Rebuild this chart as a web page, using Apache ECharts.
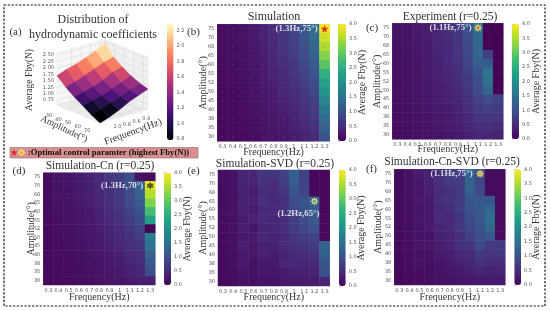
<!DOCTYPE html>
<html>
<head>
<meta charset="utf-8">
<style>html,body{margin:0;padding:0;background:#fff}#c{width:550px;height:311px;filter:blur(0.35px)}</style>
<script src="https://cdn.jsdelivr.net/npm/echarts@6/dist/echarts.min.js"></script>
</head>
<body>
<div id="c"></div>
<script>
// ---------- categories and tick labels ----------
var freqLabels = ['0.3','0.4','0.5','0.6','0.7','0.8','0.9','1','1.1','1.2','1.3'];
var ampLabels = ['30','35','38','40','45','50','52','55','60','65','68','70','75'];
var barTicks = [0, 4];
var surfFreqs = [0.3,0.5,0.7,0.9,1.1,1.3];
var surfAmps = [30,39,48,57,66,75];
var surfFreqTicks = [0.4,0.6,0.8,1.0];
var surfAmpTicks = [30,40,50,60,70];
var surfZTicks = [0.75,1.0,1.25,1.5,1.75,2.0,2.25,2.5];

// ---------- values, rows run from amplitude 75 (top) down to 30 ----------
var simulation = [
[.12,.16,.2,.28,.38,.5,.65,.85,1.1,1.45,3.95],
[.12,.16,.2,.27,.36,.47,.62,.8,1.05,1.4,3.7],
[.11,.15,.19,.26,.34,.45,.6,.75,1,1.3,3.5],
[.11,.15,.19,.25,.33,.43,.56,.72,.95,1.25,3.25],
[.1,.14,.18,.24,.31,.4,.52,.66,.88,1.15,2.95],
[.1,.13,.17,.23,.29,.37,.48,.6,.8,1.05,2.55],
[.1,.13,.16,.22,.28,.35,.45,.56,.72,.95,2.3],
[.09,.12,.16,.21,.26,.33,.42,.52,.66,.88,2.1],
[.09,.12,.15,.2,.25,.31,.38,.47,.6,.78,1.85],
[.09,.11,.14,.18,.23,.28,.34,.42,.54,.7,1.6],
[.08,.11,.14,.17,.21,.26,.31,.38,.48,.62,1.4],
[.08,.1,.13,.16,.2,.24,.29,.35,.43,.55,1.25],
[.08,.1,.12,.15,.18,.22,.26,.31,.38,.48,1.05]];
var experiment = [
[.2,.22,.28,.33,.42,.52,.68,1.0,1.4,.04,.04],
[.19,.21,.27,.32,.41,.5,.65,.95,1.35,.04,.04],
[.19,.21,.26,.31,.4,.48,.62,.92,1.32,.04,.04],
[.18,.2,.25,.3,.38,.46,.6,.88,1.3,.75,.04],
[.18,.2,.25,.29,.36,.44,.57,.82,1.2,1.15,.04],
[.17,.19,.24,.28,.34,.42,.53,.75,1.05,1.5,.04],
[.16,.18,.23,.27,.33,.4,.5,.68,.98,1.5,.04],
[.16,.18,.22,.26,.31,.38,.46,.62,.9,1.3,.04],
[.15,.17,.21,.25,.29,.35,.42,.56,.8,.95,.8],
[.14,.16,.2,.23,.27,.32,.38,.5,.68,.75,.7],
[.14,.16,.19,.22,.26,.3,.36,.46,.6,.65,.6],
[.13,.15,.18,.21,.24,.28,.33,.42,.52,.55,.5],
[.12,.14,.17,.19,.22,.25,.29,.35,.42,.42,.38]];
var simulationCn = [
[.12,.2,.22,.3,.38,.48,.6,.75,.95,.2,.15],
[.12,.2,.22,.29,.36,.46,.58,.72,.95,1.25,3.9],
[.12,.19,.21,.27,.34,.43,.55,.7,.92,1.2,3.55],
[.11,.18,.2,.26,.33,.41,.52,.68,.9,1.15,3.2],
[.11,.17,.19,.24,.3,.38,.48,.62,.82,1.05,2.8],
[.1,.16,.18,.23,.28,.35,.44,.56,.72,.92,2.25],
[.1,.15,.17,.22,.27,.33,.4,.5,.65,.82,.04],
[.1,.14,.16,.2,.25,.3,.37,.46,.58,.72,1.7],
[.1,.13,.15,.19,.23,.28,.33,.41,.52,.62,1.5],
[.09,.12,.14,.17,.21,.25,.3,.36,.45,.54,1.25],
[.09,.12,.13,.16,.19,.23,.27,.32,.4,.47,1.1],
[.09,.11,.13,.15,.18,.21,.25,.29,.35,.42,.95],
[.08,.1,.12,.14,.16,.18,.21,.24,.28,.33,.35]];
var simulationSvd = [
[.15,.22,.42,.42,.62,.6,.8,1.2,.8,.08,.08],
[.15,.22,.4,.4,.58,.5,.72,1.15,.8,.08,.08],
[.14,.2,.38,.32,.5,.48,.62,1.05,.85,.08,.08],
[.14,.2,.36,.38,.56,.46,.55,.95,1.05,1.1,.08],
[.14,.2,.34,.3,.44,.45,.58,.85,1.0,1.15,.08],
[.13,.18,.3,.35,.48,.42,.48,.72,.9,1.1,.08],
[.13,.18,.32,.26,.4,.42,.52,.7,.85,1.0,.08],
[.12,.17,.28,.3,.42,.38,.44,.6,.72,.8,.08],
[.12,.18,.34,.24,.34,.36,.48,.56,.6,.7,1.25],
[.12,.17,.26,.25,.38,.3,.38,.48,.5,.55,1.2],
[.11,.16,.28,.2,.3,.3,.42,.44,.42,.45,1.05],
[.11,.15,.22,.2,.26,.26,.3,.36,.36,.38,1.0],
[.1,.14,.18,.17,.22,.22,.26,.3,.3,.3,.4]];
var simulationCnSvd = [
[.12,.2,.28,.38,.55,.75,.8,1.3,.9,.12,.12],
[.12,.2,.26,.38,.55,.7,.72,1.25,.85,.12,.12],
[.11,.18,.24,.34,.5,.55,.7,1.2,.9,.12,.12],
[.11,.18,.28,.3,.55,.6,.7,1.1,1.1,1.05,.12],
[.11,.17,.24,.3,.46,.52,.75,1.0,1.15,1.3,.12],
[.1,.17,.26,.26,.48,.45,.62,.9,1.1,1.45,.12],
[.1,.16,.22,.28,.4,.48,.65,.85,1.05,1.35,.12],
[.1,.15,.22,.22,.38,.4,.55,.75,.95,1.1,.12],
[.1,.15,.24,.24,.32,.38,.58,.62,.9,.7,.7],
[.09,.13,.18,.18,.3,.32,.44,.5,.7,.6,.62],
[.09,.13,.2,.16,.25,.3,.36,.42,.55,.5,.5],
[.09,.12,.15,.15,.22,.25,.3,.35,.4,.38,.4],
[.08,.11,.13,.13,.18,.2,.24,.26,.3,.28,.3]];
// surface: rows by surfAmps, columns by surfFreqs
var surfaceFby = [
[2.45,2.25,2.1,1.95,1.85,1.7],
[2.05,1.95,1.8,1.65,1.5,1.4],
[1.8,1.7,1.5,1.35,1.25,1.15],
[1.6,1.45,1.3,1.15,1.05,.95],
[1.45,1.3,1.15,1.0,.85,.72],
[1.35,1.2,1.05,.85,.68,.55]];

// ---------- layout and style ----------
var SERIF = '"Liberation Serif"';
var SANS = '"DejaVu Sans"';
var viridis = ['#440154','#482878','#3e4989','#31688e','#26828e','#1f9e89','#35b779','#6ece58','#b5de2b','#fde725'];
var magma = ['#000004','#1c1044','#4f127b','#812581','#b5367a','#e55964','#fb8761','#fec287','#fcfdbf'];
var STAR = 'path://M12 0L15 8.5L24 8.5L17 14L19.5 23L12 17.5L4.5 23L7 14L0 8.5L9 8.5Z';
var SUN = 'path://M12 0L14.5 6L20.5 3.5L18 9.5L24 12L18 14.5L20.5 20.5L14.5 18L12 24L9.5 18L3.5 20.5L6 14.5L0 12L6 9.5L3.5 3.5L9.5 6Z';
var HEX = 'path://M12 0L15 6.5L22.4 6L18 12L22.4 18L15 17.5L12 24L9 17.5L1.6 18L6 12L1.6 6L9 6.5Z';

var panels = [
 {vals:simulation, g:[217.3,24.3,112.4,117], b:[338,24,8,117], bn:11, xg:5.7, yg:9.3,
  best:[10,12], sym:STAR, size:8, col:'#d0101c', dot:null, lab:'(1.3Hz,75°)', lp:'left', lo:[-1,0], dots:.42},
 {vals:experiment, g:[392.3,23.3,111,116], b:[511.7,24,7.3,115], bn:12, xg:4.7, yg:10,
  best:[8,12], sym:SUN, size:9, col:'#fff07a', dot:'#e2602a', lab:'(1.1Hz,75°)', lp:'left', lo:[0,0], dots:.18},
 {vals:simulationCn, g:[43.3,172.7,112,112.3], b:[164,172.7,7,112.3], bn:11, xg:7.7, yg:7,
  best:[10,11], sym:HEX, size:8, col:'#25401e', dot:null, lab:'(1.3Hz,70°)', lp:'left', lo:[-1,0], dots:.18},
 {vals:simulationSvd, g:[218,170,111.7,116], b:[339,170,6.7,116], bn:11, xg:6.7, yg:10,
  best:[9,9], sym:SUN, size:9, col:'#e9f7a8', dot:'#5f9a3a', lab:'(1.2Hz,65°)', lp:'bottom', lo:[-16,1], dots:0},
 {vals:simulationCnSvd, g:[394.3,169.3,111,115.7], b:[514.3,169.3,6.7,115.7], bn:10, xg:7, yg:11,
  best:[8,12], sym:SUN, size:9, col:'#fff07a', dot:'#d9902a', lab:'(1.1Hz,75°)', lp:'left', lo:[-1,0], dots:0}
];

var texts = [
 ['Distribution of',93,20,12,0],['hydrodynamic coefficients',93,35,12,0],
 ['(a)',15.5,32,11,0],['(b)',193.5,32,11,0],['(c)',372,28,11,0],['(d)',19,171,11,0],['(e)',193.5,171,11,0],['(f)',371.5,169,11,0],
 ['Simulation',274,17,12,0],['Experiment (r=0.25)',450,16.5,11.5,0],
 ['Simulation-Cn (r=0.25)',100,165.5,11.5,0],['Simulation-SVD (r=0.25)',275,164,11.5,0],['Simulation-Cn-SVD (r=0.25)',452,162,11.5,0],
 ['Average Fby(N)',29,80,9.5,Math.PI/2],['Amplitude(°)',64,129,9.5,-0.44],['Frequency(Hz)',133,132,10,0.35]
];

var grid=[], xAxis=[], yAxis=[], series=[], visualMap=[];
function cellRows(vals){ // flip to bottom-first category order
  var out=[];
  vals.forEach(function(row,r){ row.forEach(function(v,c){ out.push([c, vals.length-1-r, v]); }); });
  return out;
}
panels.forEach(function(p,i){
  grid.push({left:p.g[0],top:p.g[1],width:p.g[2],height:p.g[3],show:false});
  var label={fontSize:5,fontFamily:SANS,color:'#555',interval:0};
  xAxis.push({gridIndex:i,type:'category',data:freqLabels,axisLine:{show:false},
    axisTick:{length:1.5,alignWithLabel:true,interval:0,lineStyle:{color:'#777',width:.5}},
    axisLabel:Object.assign({margin:3},label),splitLine:{show:false},
    name:'Frequency(Hz)',nameLocation:'middle',nameGap:p.xg,nameMoveOverlap:false,nameTextStyle:{fontFamily:SERIF,fontSize:10,color:'#333',verticalAlign:'top',lineHeight:10}});
  yAxis.push({gridIndex:i,type:'category',data:ampLabels,axisLine:{show:false},
    axisTick:{length:1.5,alignWithLabel:true,interval:0,lineStyle:{color:'#777',width:.5}},
    axisLabel:Object.assign({margin:3},label),splitLine:{show:false},
    name:'Amplitude(°)',nameLocation:'middle',nameGap:p.yg,nameMoveOverlap:false,nameRotate:90,nameTextStyle:{fontFamily:SERIF,fontSize:10,color:'#333'}});
  var idx=series.length;
  series.push({type:'heatmap',xAxisIndex:i,yAxisIndex:i,data:cellRows(p.vals),silent:true,animation:false,itemStyle:{borderWidth:0}});
  visualMap.push({type:'continuous',seriesIndex:idx,dimension:2,min:0,max:4,left:p.b[0],top:p.b[1],itemWidth:p.b[2],itemHeight:p.b[3],
    padding:0,text:null,calculable:false,realtime:false,inRange:{color:viridis},textStyle:{fontSize:1,color:'transparent'},hoverLink:false});
  if(p.dots>0){
    series.push({type:'scatter',xAxisIndex:i,yAxisIndex:i,silent:true,animation:false,symbol:'circle',symbolSize:1.6,
      itemStyle:{color:'#e0407a',opacity:p.dots},data:cellRows(p.vals).map(function(d){return [d[0],d[1]];})});
  }
  series.push({type:'scatter',xAxisIndex:i,yAxisIndex:i,silent:true,animation:false,z:5,symbol:p.sym,symbolSize:p.size,
    itemStyle:{color:p.col},data:[p.best],
    label:{show:true,formatter:p.lab,position:p.lp,distance:2,offset:p.lo,color:'#fff',fontFamily:SERIF,fontWeight:'bold',fontSize:8.8}});
  if(p.dot){
    series.push({type:'scatter',xAxisIndex:i,yAxisIndex:i,silent:true,animation:false,z:6,symbol:'circle',symbolSize:3.2,itemStyle:{color:p.dot},data:[p.best]});
  }
});
panels.forEach(function(p,i){ // colour bar tick axes
  var g=grid.length;
  grid.push({left:p.b[0],top:p.b[1],width:p.b[2],height:p.b[3],show:false});
  xAxis.push({gridIndex:g,type:'value',show:false,min:0,max:1});
  yAxis.push({gridIndex:g,type:'value',position:'right',min:barTicks[0],max:barTicks[1],interval:.5,
    axisLine:{show:false},splitLine:{show:false},axisTick:{show:true,length:1.5,lineStyle:{color:'#777',width:.5}},
    axisLabel:{fontSize:5,fontFamily:SANS,color:'#555',margin:3,formatter:function(v){return v.toFixed(1);}},
    name:'Average Fby(N)',nameLocation:'middle',nameGap:p.bn,nameMoveOverlap:false,nameRotate:90,nameTextStyle:{fontFamily:SERIF,fontSize:10,color:'#333'}});
});

// magma colour bar of the surface
var mg=grid.length;
grid.push({left:167,top:30.7,width:6.5,height:108,show:false});
xAxis.push({gridIndex:mg,type:'value',show:false,min:0,max:1});
yAxis.push({gridIndex:mg,type:'value',position:'right',min:.8,max:2.2,interval:.2,axisLine:{show:false},splitLine:{show:false},
  axisTick:{show:true,length:1.5,lineStyle:{color:'#777',width:.5}},
  axisLabel:{fontSize:5,fontFamily:SANS,color:'#555',margin:3,formatter:function(v){return v.toFixed(1);}}});

// full-page plane used by the 3D projection of the surface
var pg=grid.length;
grid.push({left:0,top:0,width:550,height:311,show:false});
xAxis.push({gridIndex:pg,type:'value',show:false,min:0,max:550});
yAxis.push({gridIndex:pg,type:'value',show:false,min:0,max:311,inverse:true});

function project(f,a,z){
  var u=(75-a)/45, v=(1.3-f);
  return [100-43*u+48*v, 123-17.7*u-13.4*v-25.7*(z-.55)];
}
var zTop=2.6, zLow=.55;
series.push({type:'custom',xAxisIndex:pg,yAxisIndex:pg,silent:true,animation:false,clip:false,z:1,data:[[0,0]],
  renderItem:function(params,api){
    function P(f,a,z){return api.coord(project(f,a,z));}
    var ch=[];
    function poly(pts,fill){ch.push({type:'polygon',shape:{points:pts},style:{fill:fill,stroke:'#e6e6e6',lineWidth:.4}});}
    function line(a,b){ch.push({type:'line',shape:{x1:a[0],y1:a[1],x2:b[0],y2:b[1]},style:{stroke:'#d4d4d4',lineWidth:.5}});}
    poly([P(.3,30,zLow),P(1.3,30,zLow),P(1.3,30,zTop),P(.3,30,zTop)],'#f6f6f6');
    poly([P(.3,30,zLow),P(.3,75,zLow),P(.3,75,zTop),P(.3,30,zTop)],'#f1f1f1');
    poly([P(.3,30,zLow),P(1.3,30,zLow),P(1.3,75,zLow),P(.3,75,zLow)],'#ececec');
    surfFreqTicks.forEach(function(f){line(P(f,75,zLow),P(f,30,zLow));line(P(f,30,zLow),P(f,30,zTop));
      var q=P(f,75,zLow);ch.push({type:'text',style:{text:f.toFixed(1),x:q[0]+3,y:q[1]+8,fontSize:5,fontFamily:SANS,fill:'#555',textAlign:'center',textVerticalAlign:'middle'}});});
    surfAmpTicks.forEach(function(a){line(P(1.3,a,zLow),P(.3,a,zLow));line(P(.3,a,zLow),P(.3,a,zTop));
      var q=P(1.3,a,zLow);ch.push({type:'text',style:{text:String(a),x:q[0]-8,y:q[1]+10,fontSize:5,fontFamily:SANS,fill:'#555',textAlign:'center',textVerticalAlign:'middle'}});});
    surfZTicks.forEach(function(z){line(P(1.3,30,z),P(.3,30,z));line(P(.3,30,z),P(.3,75,z));
      var q=P(1.3,30,z);ch.push({type:'text',style:{text:z.toFixed(2),x:q[0]-3,y:q[1],fontSize:5,fontFamily:SANS,fill:'#555',textAlign:'right',textVerticalAlign:'middle'}});});
    return {type:'group',children:ch};
  }});
var faces=[];
for(var ia=0;ia<surfAmps.length-1;ia++){ for(var jf=0;jf<surfFreqs.length-1;jf++){
  var z=surfaceFby;
  faces.push([(z[ia][jf]+z[ia][jf+1]+z[ia+1][jf]+z[ia+1][jf+1])/4,ia,jf]);
}}
var surfIdx=series.length;
series.push({type:'custom',xAxisIndex:pg,yAxisIndex:pg,silent:true,animation:false,clip:false,z:2,data:faces,
  encode:{x:1,y:2},
  renderItem:function(params,api){
    var ia=api.value(1), jf=api.value(2), z=surfaceFby;
    function P(i,j){return api.coord(project(surfFreqs[j],surfAmps[i],z[i][j]));}
    var col=api.visual('color');
    return {type:'polygon',shape:{points:[P(ia,jf),P(ia,jf+1),P(ia+1,jf+1),P(ia+1,jf)]},style:{fill:col,stroke:col,lineWidth:.4}};
  }});
visualMap.push({type:'continuous',seriesIndex:surfIdx,dimension:0,min:.78,max:2.29,left:167,top:24,itemWidth:6.5,itemHeight:116,padding:0,
  calculable:false,inRange:{color:magma},textStyle:{fontSize:1,color:'transparent'},hoverLink:false});

// legend glyphs in the strip
series.push({type:'scatter',xAxisIndex:pg,yAxisIndex:pg,silent:true,animation:false,z:20,symbol:STAR,symbolSize:7,itemStyle:{color:'#d8101c'},data:[[14,152.5]]});
series.push({type:'scatter',xAxisIndex:pg,yAxisIndex:pg,silent:true,animation:false,z:20,symbol:SUN,symbolSize:9,itemStyle:{color:'#ffe860'},data:[[21.5,152.5]]});
series.push({type:'scatter',xAxisIndex:pg,yAxisIndex:pg,silent:true,animation:false,z:21,symbol:'circle',symbolSize:3,itemStyle:{color:'#e8903a'},data:[[21.5,152.5]]});

// texts, legend strip and the dashed frame
var graphic=[
 {type:'rect',z:0,shape:{x:4,y:5,width:541,height:301},style:{fill:'none',stroke:'#111',lineWidth:1.2,lineDash:[2.2,1.6]}},
 {type:'rect',z:0,shape:{x:10,y:147.5,width:188,height:10.5},style:{fill:'#d98f90',stroke:'#8a7070',lineWidth:.6}},
 {type:'text',z:10,style:{text:':Optimal control paramter (highest Fby(N))',x:28,y:152.8,font:'bold 8.6px '+SERIF,fill:'#111',textAlign:'left',textVerticalAlign:'middle'}}
];
texts.forEach(function(t){
  graphic.push({type:'text',z:10,x:t[1],y:t[2],rotation:t[4],style:{text:t[0],x:0,y:0,font:t[3]+'px '+SERIF,fill:'#333',textAlign:'center',textVerticalAlign:'middle'}});
});

var chart=echarts.init(document.getElementById('c'),null,{renderer:'canvas',width:550,height:311});
chart.setOption({animation:false,backgroundColor:'#fff',tooltip:{show:false},grid:grid,xAxis:xAxis,yAxis:yAxis,visualMap:visualMap,series:series,graphic:graphic});
</script>
</body>
</html>
